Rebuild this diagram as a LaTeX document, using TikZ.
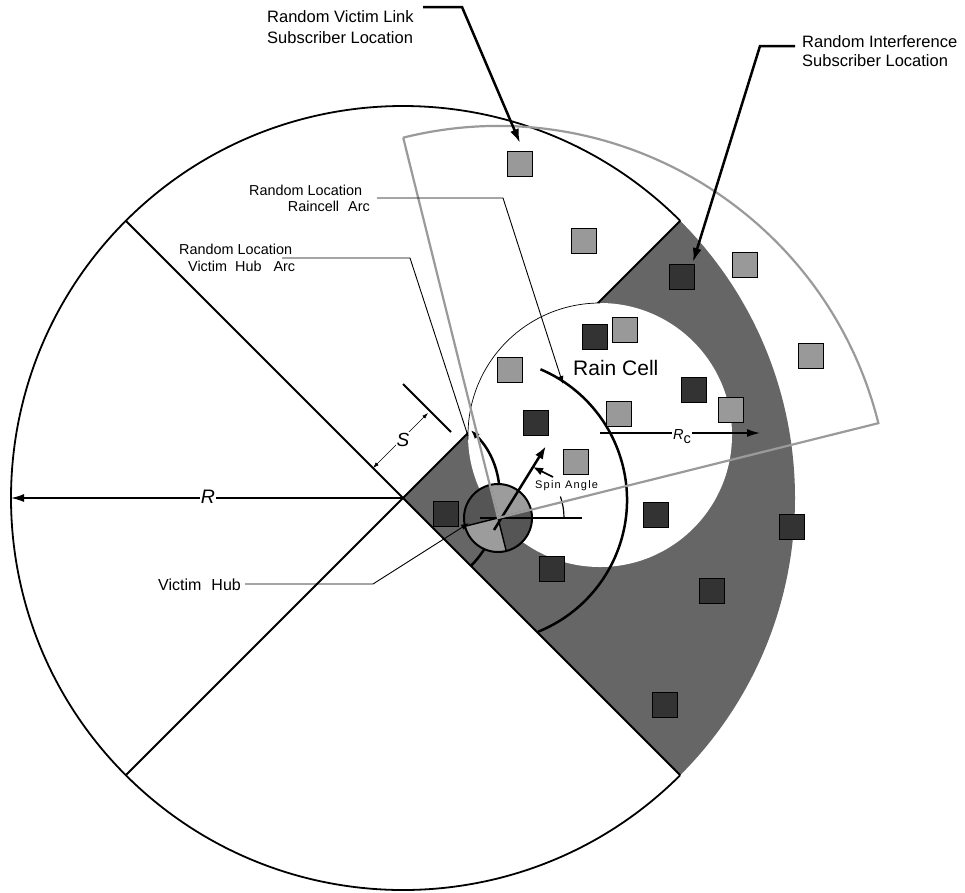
\documentclass[tikz,border=0pt]{standalone}
\usepackage{fontspec}
\setmainfont{Liberation Sans}
\newfontfamily\spinfont[LetterSpace=11]{Liberation Sans}
\usetikzlibrary{arrows.meta}
\definecolor{sector}{HTML}{666666}
\definecolor{darksq}{HTML}{333333}
\definecolor{lightsq}{HTML}{999999}
\definecolor{hubdark}{HTML}{555555}
\definecolor{hublight}{HTML}{9C9C9C}
\definecolor{sectorline}{HTML}{9A9A9A}
\begin{document}
\begin{tikzpicture}[x=1pt,y=-1pt,
  vsq/.style={draw=black, line width=0.7pt, fill=lightsq, minimum size=25pt, inner sep=0pt},
  isq/.style={draw=black, line width=0.7pt, fill=darksq, minimum size=25pt, inner sep=0pt},
  lbl/.style={font=\fontsize{16.5}{20}\selectfont, inner sep=0pt},
  slbl/.style={font=\fontsize{14.4}{17}\selectfont, inner sep=0pt},
  thinlead/.style={line width=0.9pt},
  thicklead/.style={line width=2.5pt},
  bigtip/.style={-{Latex[length=14pt,width=9pt]}},
  smalltip/.style={-{Latex[length=8pt,width=6pt]}},
]
\useasboundingbox (0,0) rectangle (965,892);
\coordinate (C) at (403,498);
\coordinate (H) at (498,518);
\coordinate (RC) at (600,435);
\coordinate (P) at (485,500);

% coverage circle
\fill[white] (C) circle[radius=392];
\fill[sector] (C) -- ([shift={(-45:392)}]C) arc[start angle=-45,end angle=45,radius=392] -- cycle;
\draw[line width=1.8pt] ([shift={(45:392)}]C) arc[start angle=45,end angle=315,radius=392];
\foreach \a in {45,135,225,315}
  \draw[line width=2pt] (C) -- ([shift={(\a:392)}]C);

% rain cell
\fill[white] (RC) circle[radius=132];
\draw[line width=0.7pt] ([shift={(-90:132)}]RC) arc[start angle=-90,end angle=-182,radius=132];

% victim hub arc
\draw[line width=2.5pt, -{Latex[length=9pt,width=7pt]}] ([shift={(45:96)}]C) arc[start angle=45,end angle=-45,radius=96];

% raincell arc
\draw[line width=2.5pt] ([shift={(-67:142)}]P) arc[start angle=-67,end angle=68,radius=142];

% victim link subscribers
\node[vsq] (v1) at (520,164) {};
\node[vsq] (v2) at (584,241) {};
\node[vsq] (v3) at (745,265) {};
\node[vsq] (v4) at (811,356) {};
\node[vsq] (v5) at (625,330) {};
\node[vsq] (v6) at (510,370) {};
\node[vsq] (v7) at (619,414) {};
\node[vsq] (v8) at (731,410) {};
\node[vsq] (v9) at (576,462) {};

% interference subscribers
\node[isq] (i1) at (682,277) {};
\node[isq] (i2) at (595,337) {};
\node[isq] (i3) at (694,390) {};
\node[isq] (i4) at (536,423) {};
\node[isq] (i5) at (446,514) {};
\node[isq] (i6) at (552,569) {};
\node[isq] (i7) at (656,515) {};
\node[isq] (i8) at (792,527) {};
\node[isq] (i9) at (712,591) {};
\node[isq] (i10) at (665,705) {};

% victim hub
\fill[hublight] (H) -- ([shift={(-14:34)}]H) arc[start angle=-14,end angle=-104,radius=34] -- cycle;
\fill[hubdark] (H) -- ([shift={(-104:34)}]H) arc[start angle=-104,end angle=-194,radius=34] -- cycle;
\fill[hublight] (H) -- ([shift={(-194:34)}]H) arc[start angle=-194,end angle=-284,radius=34] -- cycle;
\fill[hubdark] (H) -- ([shift={(-284:34)}]H) arc[start angle=-284,end angle=-374,radius=34] -- cycle;
\draw[line width=1.4pt] ([shift={(166:34)}]H) -- ([shift={(-14:34)}]H);
\draw[line width=1.4pt] ([shift={(76:34)}]H) -- ([shift={(-104:34)}]H);
\draw[line width=2pt] (H) circle[radius=34];

% spin reference line, arrow and angle
\draw[line width=2pt] (480,518) -- (582,518);
\draw[line width=2.5pt, -{Latex[length=13pt,width=9pt]}] (494,530) -- (546,446);
\draw[line width=1.2pt] ([shift={(0:66)}]H) arc[start angle=0,end angle=-19,radius=66];

% victim sector (gray outline)
\draw[sectorline, line width=2.2pt, line join=miter] ([shift={(-104:392)}]H) -- (H) -- ([shift={(-14:392)}]H) arc[start angle=-14,end angle=-104,radius=392];

% s dimension
\draw[line width=2pt] (403,384) -- (451,432);
\draw[line width=0.6pt, {Latex[length=6pt,width=4pt]}-{Latex[length=6pt,width=4pt]}] (373,468) -- (428,413);
\node[fill=white, inner sep=1pt, font=\fontsize{19}{19}\selectfont\itshape] (slab) at (403,440) {S};

% R arrow
\draw[line width=1.5pt, -{Latex[length=13pt,width=8pt]}] (C) -- (11,498);
\node[fill=white, inner sep=1pt, font=\fontsize{19.5}{20}\selectfont\itshape] (Rlab) at (208,497) {R};

% Rc arrow
\draw[line width=1.5pt, -{Latex[length=13pt,width=8pt]}] (600,433) -- (760,433);
\node[fill=white, inner sep=1pt, font=\fontsize{14.5}{15}\selectfont] (Rclab) at (682,437) {\textit{R}\raisebox{-4pt}{c}};

% Rain Cell text
\node[anchor=base west, inner sep=0pt, font=\fontsize{21}{24}\selectfont] (rain) at (573,375) {Rain Cell};

% Spin angle label
\node[anchor=base west, inner sep=0pt, font=\fontsize{11}{12}\selectfont\spinfont] (spin) at (535,488) {Spin Angle};
\coordinate (spinfrom) at (553,477);
\coordinate (spinto) at (533,467);
\draw[line width=1.6pt, -{Latex[length=10pt,width=8pt]}] (spinfrom) -- (spinto);

% Random Victim Link label
\node[lbl, anchor=base west] (vl1) at (267,22) {Random Victim Link};
\node[lbl, anchor=base west] (vl2) at (267,43) {Subscriber Location};
\coordinate (vlA) at (423,7);
\coordinate (vlB) at (462,7);
\coordinate (vlT) at (520,143);
\draw[thicklead, bigtip, line join=miter] (vlA) -- (vlB) -- (vlT);

% Random Interference label
\node[lbl, anchor=base west] (il1) at (802,47) {Random Interference};
\node[lbl, anchor=base west] (il2) at (802,66) {Subscriber Location};
\coordinate (ilA) at (795,46);
\coordinate (ilB) at (760,46);
\coordinate (ilT) at (693,262);
\draw[thicklead, bigtip, line join=miter] (ilA) -- (ilB) -- (ilT);

% Random Location Raincell Arc
\node[slbl, anchor=base west] (rl1) at (249,195) {Random Location};
\node[slbl, anchor=base east] (rl2) at (370,211) {Raincell\hspace{9pt}Arc};
\coordinate (rlA) at (377,198);
\coordinate (rlB) at (503,198);
\coordinate (rlT) at (563,384);
\draw[thinlead, smalltip] (rlA) -- (rlB) -- (rlT);

% Random Location Victim Hub Arc
\node[slbl, anchor=base west] (hl1) at (179,254) {Random Location};
\node[slbl, anchor=base west] (hl2) at (188,271) {Victim\hspace{8pt}Hub\hspace{12pt}Arc};
\coordinate (hlA) at (282,258);
\coordinate (hlB) at (410,258);
\coordinate (hlT) at (468,436);
\draw[thinlead] (hlA) -- (hlB) -- (hlT);

% Victim Hub
\node[anchor=base west, inner sep=0pt, font=\fontsize{16}{18}\selectfont] (vh) at (158,590) {Victim\hspace{10pt}Hub};
\coordinate (vhA) at (245,584);
\coordinate (vhB) at (373,584);
\coordinate (vhT) at (469,523);
\draw[thinlead, smalltip] (vhA) -- (vhB) -- (vhT);
\end{tikzpicture}
\end{document}
